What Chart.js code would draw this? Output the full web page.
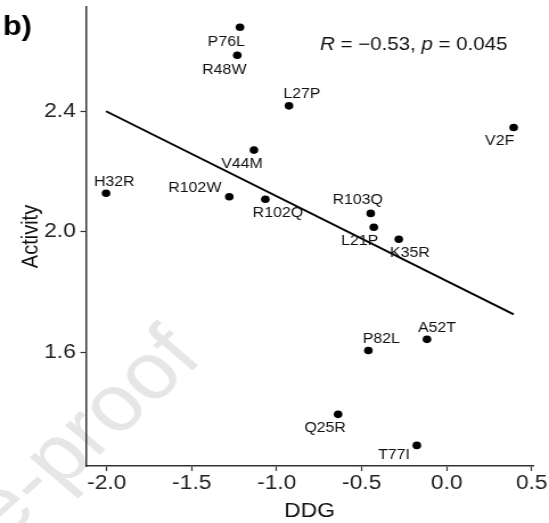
<!DOCTYPE html>
<html lang="en">
  <head>
    <meta charset="UTF-8" />
    <title>Activity vs DDG</title>
    <script src="https://cdn.jsdelivr.net/npm/chart.js@4"></script>
    <style>
      html, body {
        margin: 0;
        padding: 0;
        background: #ffffff;
        overflow: hidden;
      }
      /* the figure is slightly wider than tall in its text, so stretch the canvas sideways */
      #wrap {
        position: relative;
        width: 482px;
        height: 523px;
        transform: scaleX(1.139);
        transform-origin: 0 0;
      }
    </style>
  </head>
  <body>
    <div id="wrap"><canvas id="chart"></canvas></div>

    <script>
      const mutations = ['P76L', 'R48W', 'L27P', 'V2F', 'V44M', 'H32R', 'R102W', 'R102Q',
        'R103Q', 'L21P', 'K35R', 'A52T', 'P82L', 'Q25R', 'T77I']
      const ddg = [-1.216, -1.232, -0.928, 0.394, -1.134, -2.004, -1.279, -1.067,
        -0.447, -0.429, -0.282, -0.116, -0.461, -0.639, -0.176]
      const activity = [2.679, 2.586, 2.418, 2.346, 2.271, 2.128, 2.116, 2.108,
        2.061, 2.015, 1.975, 1.643, 1.606, 1.394, 1.291]

      // linear fit drawn across the data range
      const fitX = [-2.004, 0.394]
      const fitY = [2.40, 1.726]

      const xTicks = [-2.0, -1.5, -1.0, -0.5, 0.0, 0.5]
      const yTicks = [1.6, 2.0, 2.4]

      const FONT = "'Liberation Sans', Arial, sans-serif"

      // where each mutation name sits relative to its dot
      const labelNudge = [[-12, 15], [-11.4, 15], [11.4, -12], [-12.3, 14], [-10.5, 14],
        [7.2, -11], [-30.3, -8.4], [11, 13.5], [-11.4, -13], [-12.3, 14], [9.7, 14],
        [8.8, -11], [11.4, -11], [-11.4, 14], [-20, 10]]

      const pointLabels = {
        id: 'pointLabels',
        afterDatasetsDraw(chart) {
          const ctx = chart.ctx
          const meta = chart.getDatasetMeta(0)
          ctx.save()
          ctx.font = '14px ' + FONT
          ctx.fillStyle = '#111'
          ctx.textAlign = 'center'
          ctx.textBaseline = 'middle'
          meta.data.forEach((pt, i) => {
            const [dx, dy] = labelNudge[i]
            ctx.fillText(mutations[i], pt.x + dx, pt.y + dy)
          })
          ctx.restore()
        },
      }

      const extras = {
        id: 'extras',
        beforeDraw(chart) {
          // light watermark running diagonally off the bottom-left corner
          const ctx = chart.ctx
          ctx.save()
          ctx.font = '80px ' + FONT
          ctx.fillStyle = '#e6e6e6'
          ctx.translate(4.4, 512)
          ctx.rotate(-46 * Math.PI / 180)
          const before = ctx.measureText('Journal Pr').width
          const eW = ctx.measureText('e').width
          ctx.textBaseline = 'alphabetic'
          ctx.fillText('Journal Pre-proof', -before - eW / 2, 20)
          ctx.restore()
        },
        afterDraw(chart) {
          const ctx = chart.ctx
          ctx.save()
          ctx.fillStyle = '#000'
          ctx.textBaseline = 'alphabetic'
          ctx.font = 'bold 27px ' + FONT
          ctx.fillText('b)', 2.6, 35)

          // correlation note, R and p in italics
          const parts = [
            ['R', 'italic'], [' = \u22120.53, ', ''], ['p', 'italic'], [' = 0.045', ''],
          ]
          let x = 281
          ctx.fillStyle = '#111'
          parts.forEach(([txt, style]) => {
            ctx.font = (style ? style + ' ' : '') + '18px ' + FONT
            ctx.fillText(txt, x, 50)
            x += ctx.measureText(txt).width
          })
          ctx.restore()
        },
      }

      const axisColor = '#333'

      new Chart(document.getElementById('chart'), {
        type: 'scatter',
        data: {
          datasets: [
            {
              data: ddg.map((v, i) => ({ x: v, y: activity[i] })),
              backgroundColor: '#000',
              borderWidth: 0,
              pointRadius: 3.8,
            },
            {
              data: fitX.map((v, i) => ({ x: v, y: fitY[i] })),
              showLine: true,
              borderColor: '#000',
              borderWidth: 2,
              pointRadius: 0,
            },
          ],
        },
        plugins: [extras, pointLabels],
        options: {
          responsive: true,
          maintainAspectRatio: false,
          animation: false,
          layout: { padding: { left: 0, right: 14, top: 7, bottom: 0 } },
          plugins: {
            legend: { display: false },
            tooltip: { enabled: false },
          },
          scales: {
            x: {
              type: 'linear',
              min: -2.122,
              max: 0.508,
              afterBuildTicks: s => { s.ticks = xTicks.map(v => ({ value: v })) },
              afterFit: s => {
                s.height = 57
                s.paddingLeft = 0
                s.paddingRight = 0
              },
              grid: {
                drawOnChartArea: false,
                drawTicks: true,
                tickLength: 5,
                tickColor: axisColor,
                tickWidth: 1.2,
              },
              border: { display: true, color: axisColor, width: 1.5 },
              ticks: {
                color: '#222',
                font: { family: FONT, size: 20 },
                padding: 0,
                maxRotation: 0,
                callback: v => v.toFixed(1),
              },
              title: {
                display: true,
                text: 'DDG',
                color: '#111',
                font: { family: FONT, size: 20 },
                padding: { top: 3, bottom: 0 },
              },
            },
            y: {
              type: 'linear',
              min: 1.2226,
              max: 2.746,
              afterBuildTicks: s => { s.ticks = yTicks.map(v => ({ value: v })) },
              afterFit: s => {
                s.width = 75.5
                s.paddingTop = 0
                s.paddingBottom = 0
              },
              grid: {
                drawOnChartArea: false,
                drawTicks: true,
                tickLength: 5,
                tickColor: axisColor,
                tickWidth: 1.2,
              },
              border: { display: true, color: axisColor, width: 1.5 },
              ticks: {
                color: '#222',
                font: { family: FONT, size: 20 },
                padding: 4,
                callback: v => v.toFixed(1),
              },
              title: {
                display: true,
                text: 'Activity',
                color: '#111',
                font: { family: FONT, size: 20 },
                padding: { top: 15, bottom: 0 },
              },
            },
          },
        },
      })
    </script>
  </body>
</html>
